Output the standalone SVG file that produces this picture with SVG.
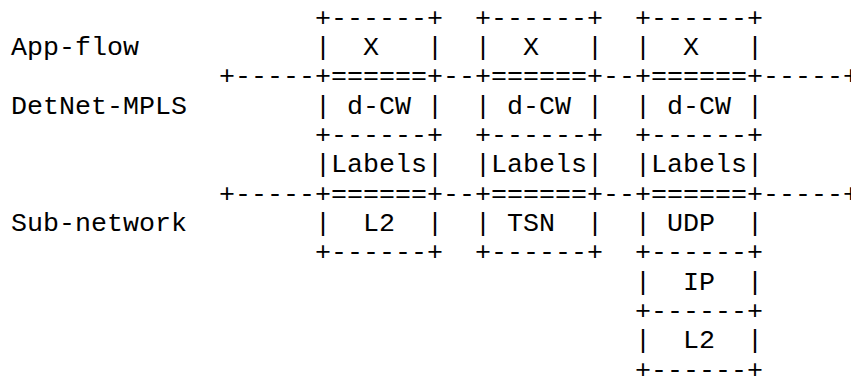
<svg xmlns="http://www.w3.org/2000/svg" width="851" height="376" viewBox="0 0 851 376">
<style>
text{font-family:"Liberation Mono","Courier New",monospace;font-size:26.667px;fill:#000;white-space:pre}
</style>
<rect width="851" height="376" fill="#fff"/>
<g id="layer-labels">
<text x="11" y="54.95">App-flow</text>
<text x="11" y="113.65">DetNet-MPLS</text>
<text x="11" y="231.05">Sub-network</text>
</g>
<g id="stack-l2" xml:space="preserve">
<text x="315" y="25.6">+------+</text>
<text x="315" y="54.95">|  X   |</text>
<text x="315" y="84.3">+======+</text>
<text x="315" y="113.65">| d-CW |</text>
<text x="315" y="143">+------+</text>
<text x="315" y="172.35">|Labels|</text>
<text x="315" y="201.7">+======+</text>
<text x="315" y="231.05">|  L2  |</text>
<text x="315" y="260.4">+------+</text>
</g>
<g id="stack-tsn" xml:space="preserve">
<text x="475" y="25.6">+------+</text>
<text x="475" y="54.95">|  X   |</text>
<text x="475" y="84.3">+======+</text>
<text x="475" y="113.65">| d-CW |</text>
<text x="475" y="143">+------+</text>
<text x="475" y="172.35">|Labels|</text>
<text x="475" y="201.7">+======+</text>
<text x="475" y="231.05">| TSN  |</text>
<text x="475" y="260.4">+------+</text>
</g>
<g id="stack-udp" xml:space="preserve">
<text x="635" y="25.6">+------+</text>
<text x="635" y="54.95">|  X   |</text>
<text x="635" y="84.3">+======+</text>
<text x="635" y="113.65">| d-CW |</text>
<text x="635" y="143">+------+</text>
<text x="635" y="172.35">|Labels|</text>
<text x="635" y="201.7">+======+</text>
<text x="635" y="231.05">| UDP  |</text>
<text x="635" y="260.4">+------+</text>
<text x="635" y="289.75">|  IP  |</text>
<text x="635" y="319.1">+------+</text>
<text x="635" y="348.45">|  L2  |</text>
<text x="635" y="377.8">+------+</text>
</g>
<g id="connectors" xml:space="preserve">
<text x="219" y="84.3">+-----</text>
<text x="443" y="84.3">--</text>
<text x="603" y="84.3">--</text>
<text x="763" y="84.3">-----+</text>
<text x="219" y="201.7">+-----</text>
<text x="443" y="201.7">--</text>
<text x="603" y="201.7">--</text>
<text x="763" y="201.7">-----+</text>
</g>
</svg>
